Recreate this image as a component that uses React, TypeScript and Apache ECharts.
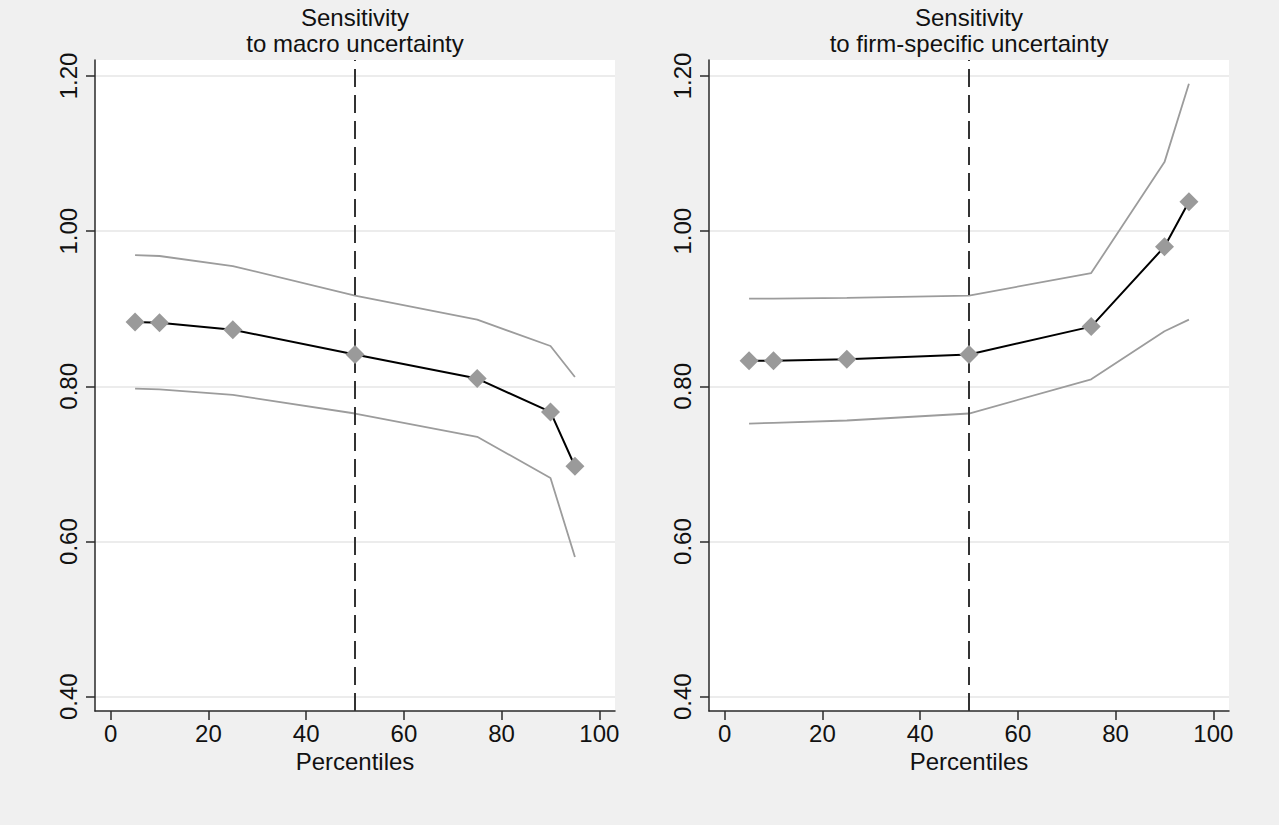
import React, { useEffect, useRef } from "react";
import * as echarts from "echarts";

const percentiles = [5, 10, 25, 50, 75, 90, 95];

const macroEstimate = [0.883, 0.882, 0.873, 0.841, 0.81, 0.767, 0.697];
const macroUpper = [0.969, 0.968, 0.955, 0.917, 0.886, 0.852, 0.812];
const macroLower = [0.797, 0.796, 0.789, 0.765, 0.735, 0.682, 0.58];

const firmEstimate = [0.833, 0.833, 0.835, 0.841, 0.877, 0.98, 1.038];
const firmUpper = [0.913, 0.913, 0.914, 0.917, 0.946, 1.089, 1.19];
const firmLower = [0.752, 0.753, 0.756, 0.765, 0.809, 0.871, 0.886];

const xTicks = [0, 20, 40, 60, 80, 100];
const yTicks = [0.4, 0.6, 0.8, 1.0, 1.2];
const panelTitles = [
  "Sensitivity\nto macro uncertainty",
  "Sensitivity\nto firm-specific uncertainty",
];
const xAxisName = "Percentiles";
const medianLine = 50;

const FONT = "'Liberation Sans', Arial, Helvetica, sans-serif";
const TEXT = "#111111";
const AXIS = "#2a2a2a";
const BAND = "#9c9c9c";
const MARKER = "#9a9a9a";

const panels = [
  { est: macroEstimate, up: macroUpper, lo: macroLower, left: 95 },
  { est: firmEstimate, up: firmUpper, lo: firmLower, left: 709 },
];

const GRID_W = 520;
const GRID_TOP = 60;
const GRID_H = 651;

function pairs(ys: number[]) {
  return percentiles.map((x, i) => [x, ys[i]]);
}

export default function App() {
  const ref = useRef<HTMLDivElement>(null);

  useEffect(() => {
    if (!ref.current) return;
    const chart = echarts.init(ref.current, null, { renderer: "svg" });

    const grids = panels.map((p) => ({
      left: p.left,
      top: GRID_TOP,
      width: GRID_W,
      height: GRID_H,
      show: true,
      backgroundColor: "#ffffff",
      borderWidth: 0,
      containLabel: false,
      outerBoundsMode: "none",
    }));

    const titles = panels.map((p, i) => ({
      text: panelTitles[i],
      left: p.left + GRID_W / 2,
      top: 4,
      padding: 0,
      textAlign: "center",
      textStyle: {
        fontFamily: FONT,
        fontSize: 24,
        fontWeight: "normal",
        color: TEXT,
        lineHeight: 26,
      },
    }));

    const xAxes = panels.map((_, i) => ({
      type: "value",
      gridIndex: i,
      min: -3.2,
      max: 103.2,
      name: xAxisName,
      nameLocation: "middle",
      nameGap: 27,
      nameTextStyle: { fontFamily: FONT, fontSize: 24, color: TEXT },
      axisLine: { show: true, onZero: false, lineStyle: { color: AXIS, width: 1.5 } },
      axisTick: {
        show: true,
        length: 9,
        customValues: xTicks,
        lineStyle: { color: AXIS, width: 1.5 },
      },
      axisLabel: {
        show: true,
        customValues: xTicks,
        margin: 10,
        fontFamily: FONT,
        fontSize: 24,
        color: TEXT,
      },
      splitLine: { show: false },
    }));

    const yAxes = panels.map((_, i) => ({
      type: "value",
      gridIndex: i,
      min: 0.3816,
      max: 1.2206,
      axisLine: { show: true, onZero: false, lineStyle: { color: AXIS, width: 1.5 } },
      axisTick: {
        show: true,
        length: 9,
        customValues: yTicks,
        lineStyle: { color: AXIS, width: 1.5 },
      },
      axisLabel: {
        show: true,
        customValues: yTicks,
        rotate: 90,
        margin: 15,
        fontFamily: FONT,
        fontSize: 24,
        color: TEXT,
        formatter: (v: number) => v.toFixed(2),
      },
      splitLine: { show: true, lineStyle: { color: "#e6e6e6", width: 1.5 } },
    }));

    const series: any[] = [];
    panels.forEach((p, i) => {
      series.push({
        type: "line",
        xAxisIndex: i,
        yAxisIndex: i,
        data: pairs(p.up),
        showSymbol: false,
        symbol: "none",
        lineStyle: { color: BAND, width: 1.8 },
        z: 2,
      });
      series.push({
        type: "line",
        xAxisIndex: i,
        yAxisIndex: i,
        data: pairs(p.lo),
        showSymbol: false,
        symbol: "none",
        lineStyle: { color: BAND, width: 1.8 },
        z: 2,
      });
      series.push({
        type: "line",
        xAxisIndex: i,
        yAxisIndex: i,
        data: pairs(p.est),
        symbol: "diamond",
        symbolSize: 19,
        itemStyle: { color: MARKER, borderWidth: 0 },
        lineStyle: { color: "#000000", width: 2 },
        z: 4,
        markLine: {
          silent: true,
          symbol: ["none", "none"],
          label: { show: false },
          lineStyle: { color: "#333333", width: 2, type: [18, 8] },
          data: [{ xAxis: medianLine }],
          z: 3,
        },
      });
    });

    chart.setOption({
      animation: false,
      backgroundColor: "#f0f0f0",
      title: titles,
      grid: grids,
      xAxis: xAxes,
      yAxis: yAxes,
      series,
      tooltip: { show: false },
    });

    return () => chart.dispose();
  }, []);

  return (
    <div
      ref={ref}
      style={{ position: "absolute", left: 0, top: 0, width: 1279, height: 825 }}
    />
  );
}
